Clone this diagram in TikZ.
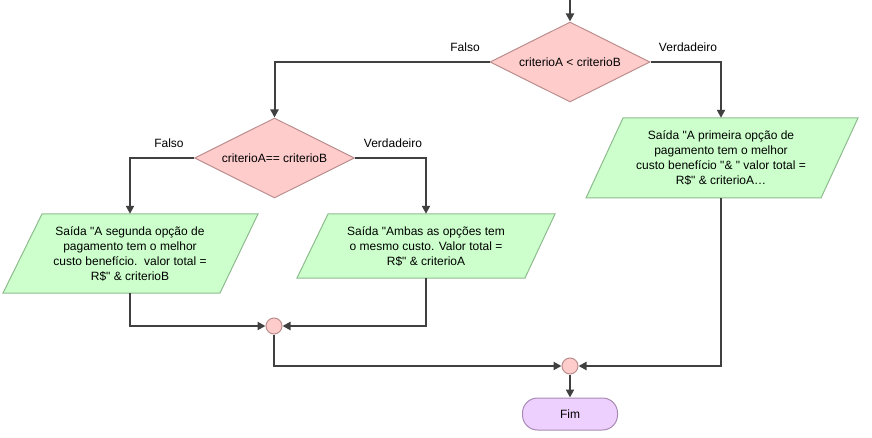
\documentclass[tikz,border=0pt]{standalone}
\usepackage{fontspec}
\setmainfont{Liberation Sans}[Ligatures=TeXOff]
\usetikzlibrary{shapes.geometric,arrows.meta}
\newcommand{\dq}{\symbol{34}}
\definecolor{linec}{HTML}{404040}
\definecolor{decf}{HTML}{FFCCCC}
\definecolor{decd}{HTML}{BB8E8E}
\definecolor{outf}{HTML}{CCFFCC}
\definecolor{outd}{HTML}{8EBB8E}
\definecolor{endf}{HTML}{EED0FF}
\definecolor{endd}{HTML}{A78BB5}
\tikzset{
  every node/.style={font=\fontsize{12}{15}\selectfont, text=black},
  decision/.style={diamond, draw=decd, fill=decf, line width=1pt, inner sep=0pt, aspect=2, minimum width=160pt, minimum height=80pt},
  pgshape/.style={draw=outd, fill=outf, line width=1pt},
  pgtext/.style={inner sep=0pt, align=center, minimum width=1pt},
  merge/.style={circle, draw=decd, fill=decf, line width=1pt, minimum size=16pt, inner sep=0pt},
  endbox/.style={rectangle, rounded corners=15pt, draw=endd, fill=endf, line width=1pt, minimum width=95pt, minimum height=32pt},
  flow/.style={draw=linec, line width=2pt, -{Triangle[length=8pt,width=8pt]}},
  lbl/.style={inner sep=0pt}
}
\begin{document}
\begin{tikzpicture}[x=1pt,y=-1pt]
\useasboundingbox (0,0) rectangle (872,438);
% decisions
\node[decision] (d1) at (570,62) {criterioA < criterioB};
\node[decision] (d2) at (274.5,158) {criterioA== criterioB};
% parallelograms
\path[pgshape] (42,214) -- (258,214) -- (220,293) -- (3,293) -- cycle;
\node[pgtext, minimum height=79pt] (p1) at (130,253.5) {Saída \dq A segunda opção de\\ pagamento tem o melhor\\custo benefício.\ \ valor total =\\R\$\dq{} \& criterioB};
\path[pgshape] (328,214) -- (555,214) -- (525,278) -- (297,278) -- cycle;
\node[pgtext, minimum height=64pt] (p2) at (426,246) {Saída \dq Ambas as opções tem\\ o mesmo custo. Valor total =\\R\$\dq{} \& criterioA};
\path[pgshape] (623,118) -- (858,118) -- (821,198) -- (586,198) -- cycle;
\node[pgtext, minimum height=80pt] (p3) at (721,158) {Saída \dq A primeira opção de\\ pagamento tem o melhor\\custo benefício \dq\& \dq{} valor total =\\R\$\dq{} \& criterioA…};
% merges and end
\node[merge] (m1) at (274,326) {};
\node[merge] (m2) at (570,366) {};
\node[endbox] (fim) at (570,414) {Fim};
% labels
\node[lbl] (l1) at (465,47) {Falso};
\node[lbl] (l2) at (688,47) {Verdadeiro};
\node[lbl] (l3) at (169,143) {Falso};
\node[lbl] (l4) at (393,143) {Verdadeiro};
% connectors
\coordinate (start) at (570,0);
\draw[flow] (start) -- (d1.north);
\draw[flow] (d1.west) -| (d2.north);
\draw[flow] (d1.east) -| (p3.north);
\draw[flow] (d2.west) -| (p1.north);
\draw[flow] (d2.east) -| (p2.north);
\draw[flow] (p1.south) |- (m1.west);
\draw[flow] (p2.south) |- (m1.east);
\draw[flow] (m1.south) |- (m2.west);
\draw[flow] (p3.south) |- (m2.east);
\draw[flow] (m2.south) -- (fim.north);
\end{tikzpicture}
\end{document}
